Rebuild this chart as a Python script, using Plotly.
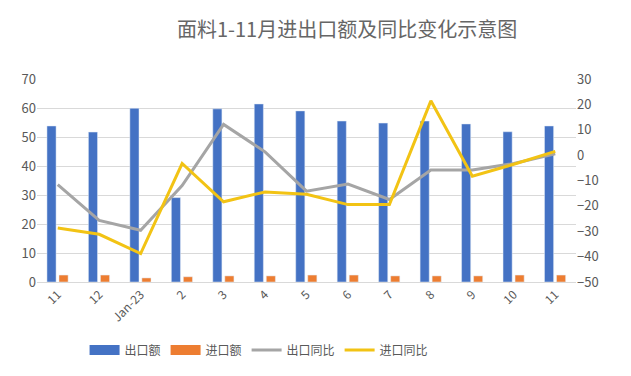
import plotly.graph_objects as go

months = ["11", "12", "Jan-23", "2", "3", "4", "5", "6", "7", "8", "9", "10", "11"]
export_amt = [53.8, 51.7, 59.9, 29.1, 59.7, 61.4, 59.0, 55.5, 54.8, 55.5, 54.5, 51.8, 53.8]
import_amt = [2.4, 2.4, 1.4, 1.8, 2.1, 2.1, 2.4, 2.4, 2.1, 2.1, 2.1, 2.4, 2.4]
export_yoy = [-11.6, -25.7, -29.6, -12.0, 12.1, 1.3, -14.2, -11.4, -17.5, -5.9, -5.9, -3.3, 0.5]
import_yoy = [-28.7, -31.2, -38.8, -3.3, -18.4, -14.5, -15.4, -19.5, -19.5, 21.4, -8.3, -3.6, 1.5]

idx = list(range(len(months)))
tick_color = "#595959"
font_family = "Noto Sans CJK SC, Noto Sans, sans-serif"
blue, orange, gray, yellow = "#4472C4", "#ED7D31", "#A5A5A5", "#F2C314"

fig = go.Figure()
fig.add_trace(go.Bar(x=idx, y=export_amt, name="出口额", marker_color=blue,
                     width=0.22, offset=-0.26, showlegend=False))
fig.add_trace(go.Bar(x=idx, y=import_amt, name="进口额", marker_color=orange,
                     width=0.22, offset=0.03, showlegend=False))
fig.add_trace(go.Scatter(x=idx, y=export_yoy, name="出口同比", mode="lines",
                         line=dict(color=gray, width=3), yaxis="y2", showlegend=False))
fig.add_trace(go.Scatter(x=idx, y=import_yoy, name="进口同比", mode="lines",
                         line=dict(color=yellow, width=3), yaxis="y2", showlegend=False))

# legend entries (bar entries shown as wide rectangles like the original)
for name, color, w in [("出口额", blue, 10), ("进口额", orange, 10),
                       ("出口同比", gray, 3), ("进口同比", yellow, 3)]:
    fig.add_trace(go.Scatter(x=[None], y=[None], name=name, mode="lines",
                             line=dict(color=color, width=w), showlegend=True))

fig.update_layout(
    width=631, height=376,
    margin=dict(l=37, r=55, t=79, b=94),
    paper_bgcolor="white", plot_bgcolor="white",
    font=dict(family=font_family, color=tick_color, size=13),
    title=dict(text="面料1-11月进出口额及同比变化示意图", x=0.55, xanchor="center",
               y=0.92, yanchor="middle",
               font=dict(size=20, color="#666666", family=font_family)),
    barmode="overlay",
    showlegend=True,
    legend=dict(orientation="h", x=0.412, xanchor="center", y=-0.335, yanchor="middle",
                font=dict(size=12, color=tick_color), itemwidth=30,
                traceorder="normal", tracegroupgap=0),
    xaxis=dict(tickmode="array", tickvals=idx, ticktext=months, tickangle=-45,
               range=[-0.5, len(months) - 0.5], showgrid=False, zeroline=False,
               showline=True, linecolor="#D9D9D9", linewidth=1, ticks="",
               tickfont=dict(size=12, color=tick_color)),
    yaxis=dict(range=[0, 70], dtick=10, showgrid=True, gridcolor="#D9D9D9",
               zeroline=False, showline=False, ticks="",
               tickfont=dict(size=13, color=tick_color)),
    yaxis2=dict(range=[-50, 30], dtick=10, overlaying="y", side="right",
                showgrid=False, zeroline=False, showline=False, ticks="",
                tickfont=dict(size=13, color=tick_color)),
)

fig.write_html("out.html", config={"displayModeBar": False},
               post_script="document.body.style.margin='0';")
